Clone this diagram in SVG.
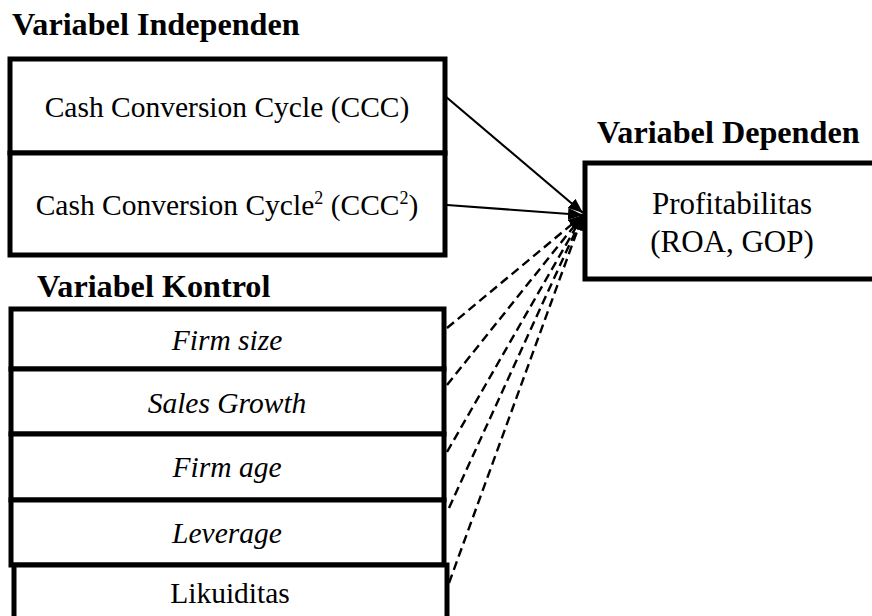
<svg xmlns="http://www.w3.org/2000/svg" width="872" height="616" viewBox="0 0 872 616">
<style>
.box{fill:#fff;stroke:#000;stroke-width:5}
.t{font-family:"Liberation Serif","Times New Roman",serif;font-size:29.5px;fill:#000;text-anchor:middle}
.i{font-style:italic}
.h{font-family:"Liberation Serif","Times New Roman",serif;font-size:32.2px;font-weight:bold;fill:#000}
.solid{stroke:#000;stroke-width:2.2;fill:none}
.dash{stroke:#000;stroke-width:2.4;fill:none;stroke-dasharray:9 5}
</style>
<defs>
<marker id="arr" markerUnits="userSpaceOnUse" markerWidth="16" markerHeight="12" refX="15" refY="6" orient="auto">
<path d="M0,0 L15,6 L0,12 Z" fill="#000"/>
</marker>
</defs>
<rect width="872" height="616" fill="#fff"/>
<g id="titles">
<text class="h" x="12" y="35">Variabel Independen</text>
<text class="h" x="597" y="143">Variabel Dependen</text>
<text class="h" x="37" y="297">Variabel Kontrol</text>
</g>
<g id="connectors">
<line class="solid" x1="445" y1="96" x2="583" y2="213" marker-end="url(#arr)"/>
<line class="solid" x1="447" y1="205" x2="583" y2="215" marker-end="url(#arr)"/>
<line class="dash" x1="447" y1="328" x2="583" y2="215" marker-end="url(#arr)"/>
<line class="dash" x1="447" y1="385" x2="583" y2="215" marker-end="url(#arr)"/>
<line class="dash" x1="447" y1="452" x2="583" y2="215" marker-end="url(#arr)"/>
<line class="dash" x1="449" y1="508" x2="583" y2="215" marker-end="url(#arr)"/>
<line class="dash" x1="449" y1="583" x2="583" y2="215" marker-end="url(#arr)"/>
</g>
<g id="ccc">
<rect class="box" x="10" y="59" width="435" height="94"/>
<text class="t" x="227" y="117">Cash Conversion Cycle (CCC)</text>
</g>
<g id="ccc2">
<rect class="box" x="10" y="153" width="435" height="102"/>
<text class="t" x="227" y="215">Cash Conversion Cycle<tspan font-size="18" dy="-11">2</tspan><tspan dy="11"> (CCC</tspan><tspan font-size="18" dy="-11">2</tspan><tspan dy="11">)</tspan></text>
</g>
<g id="profitabilitas">
<rect class="box" x="585" y="163" width="300" height="116"/>
<text class="t" x="732" y="214" style="font-size:31px">Profitabilitas</text>
<text class="t" x="732" y="252" style="font-size:31px">(ROA, GOP)</text>
</g>
<g id="firmsize">
<rect class="box" x="11" y="309" width="433" height="60"/>
<text class="t i" x="227" y="350">Firm size</text>
</g>
<g id="salesgrowth">
<rect class="box" x="11" y="369" width="433" height="65"/>
<text class="t i" x="227" y="413">Sales Growth</text>
</g>
<g id="firmage">
<rect class="box" x="11" y="434" width="433" height="66"/>
<text class="t i" x="227" y="477">Firm age</text>
</g>
<g id="leverage">
<rect class="box" x="11" y="500" width="433" height="65"/>
<text class="t i" x="227" y="543">Leverage</text>
</g>
<g id="likuiditas">
<rect class="box" x="14" y="565" width="433" height="80"/>
<text class="t" x="230" y="603">Likuiditas</text>
</g>
</svg>
